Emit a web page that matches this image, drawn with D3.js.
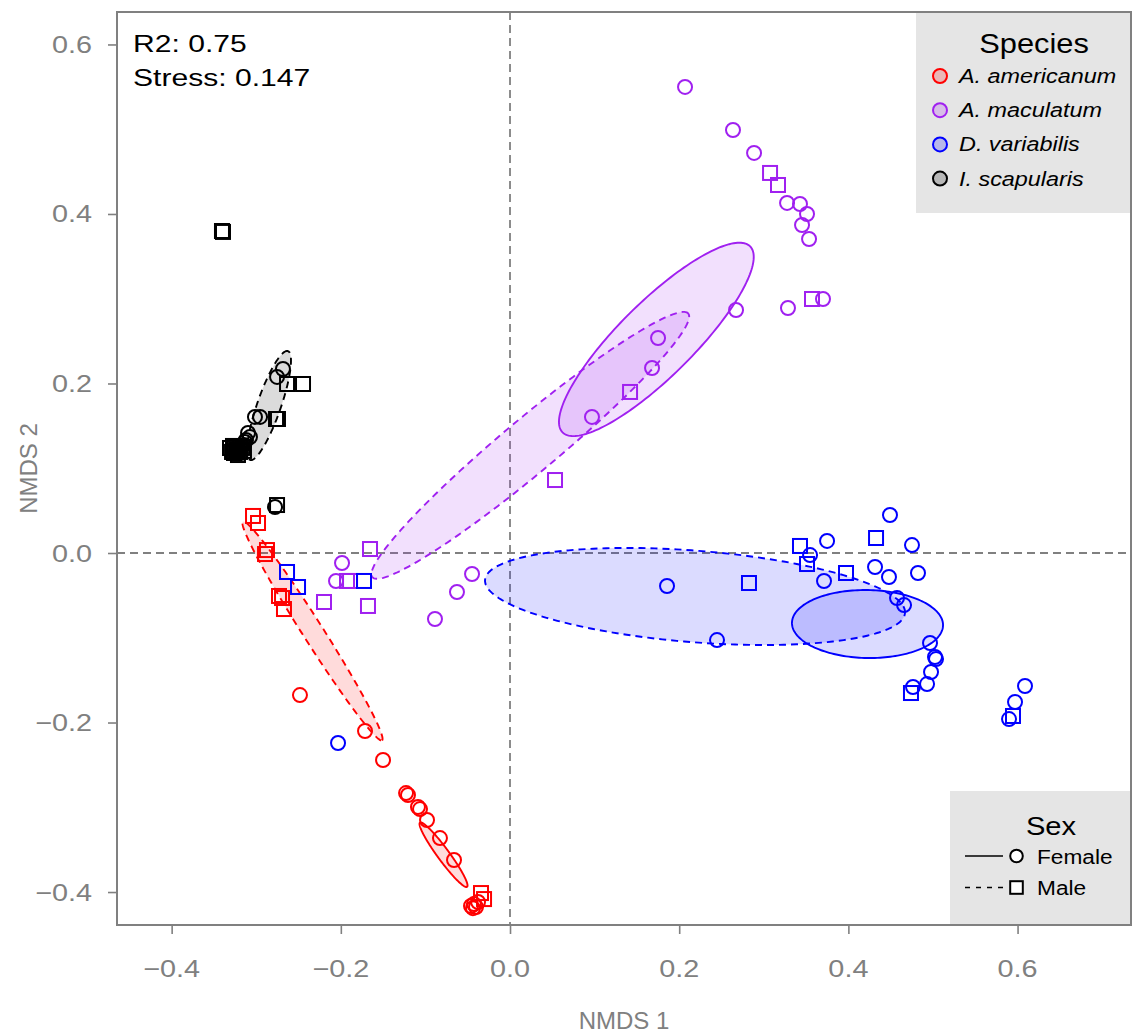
<!DOCTYPE html>
<html>
<head>
<meta charset="utf-8">
<script src="https://cdn.jsdelivr.net/npm/d3@7"></script>
<style>
  body { margin: 0; background: #fff; }
  text { font-family: "Liberation Sans", Arial, Helvetica, sans-serif; }
</style>
</head>
<body>
<svg id="chart" width="1133" height="1036"></svg>
<script>
// ---- data -------------------------------------------------------------
const speciesNames = ["A. americanum", "A. maculatum", "D. variabilis", "I. scapularis"];
const sexNames = ["Female", "Male"];
const xTickValues = [-0.4, -0.2, 0.0, 0.2, 0.4, 0.6];
const yTickValues = [-0.4, -0.2, 0.0, 0.2, 0.4, 0.6];
const fitStats = ["R2: 0.75", "Stress: 0.147"];

// NMDS site scores: [NMDS1, NMDS2, sex]
const amblyommaAmericanum = [
  [-0.2483, -0.1676, "F"], [-0.1714, -0.2100, "F"], [-0.1501, -0.2442, "F"],
  [-0.1229, -0.2832, "F"], [-0.1206, -0.2855, "F"], [-0.1088, -0.2997, "F"],
  [-0.1064, -0.3021, "F"], [-0.0981, -0.3150, "F"], [-0.0828, -0.3363, "F"],
  [-0.0662, -0.3622, "F"], [-0.0461, -0.4165, "F"], [-0.0426, -0.4142, "F"],
  [-0.0402, -0.4177, "F"], [-0.0378, -0.4118, "F"], [-0.0438, -0.4190, "F"],
  [-0.3038, 0.0437, "M"], [-0.2979, 0.0354, "M"], [-0.2873, 0.0035, "M"],
  [-0.2896, -0.0012, "M"], [-0.2731, -0.0507, "M"], [-0.2695, -0.0531, "M"],
  [-0.2672, -0.0661, "M"], [-0.0343, -0.4012, "M"], [-0.0307, -0.4083, "M"]
];
const amblyommaMaculatum = [
  [0.2069, 0.5499, "F"], [0.2636, 0.4991, "F"], [0.2885, 0.4720, "F"],
  [0.3275, 0.4130, "F"], [0.3428, 0.4118, "F"], [0.3511, 0.4000, "F"],
  [0.3452, 0.3870, "F"], [0.3535, 0.3705, "F"], [0.2672, 0.2867, "F"],
  [0.3286, 0.2891, "F"], [0.3700, 0.2997, "F"], [0.1750, 0.2537, "F"],
  [0.1679, 0.2183, "F"], [0.0969, 0.1605, "F"], [-0.0449, -0.0248, "F"],
  [-0.0627, -0.0460, "F"], [-0.0887, -0.0779, "F"], [-0.1986, -0.0118, "F"],
  [-0.2057, -0.0330, "F"],
  [0.3074, 0.4484, "M"], [0.3168, 0.4342, "M"], [0.3570, 0.2997, "M"],
  [0.1419, 0.1900, "M"], [0.0532, 0.0861, "M"], [-0.1655, 0.0047, "M"],
  [-0.1927, -0.0330, "M"], [-0.1891, -0.0330, "M"], [-0.2199, -0.0578, "M"],
  [-0.1679, -0.0625, "M"]
];
const dermacentorVariabilis = [
  [0.1856, -0.0389, "F"], [0.2447, -0.1027, "F"], [-0.2033, -0.2242, "F"],
  [0.4492, 0.0448, "F"], [0.3748, 0.0142, "F"], [0.3547, -0.0024, "F"],
  [0.4752, 0.0094, "F"], [0.4315, -0.0165, "F"], [0.4480, -0.0283, "F"],
  [0.4823, -0.0236, "F"], [0.3712, -0.0330, "F"], [0.4575, -0.0531, "F"],
  [0.4658, -0.0614, "F"], [0.4965, -0.1062, "F"], [0.5024, -0.1227, "F"],
  [0.5036, -0.1251, "F"], [0.4977, -0.1404, "F"], [0.4930, -0.1546, "F"],
  [0.4764, -0.1581, "F"], [0.6088, -0.1569, "F"], [0.5970, -0.1758, "F"],
  [0.5899, -0.1959, "F"],
  [0.3428, 0.0083, "M"], [0.3511, -0.0130, "M"], [0.3972, -0.0236, "M"],
  [0.4327, 0.0177, "M"], [0.2825, -0.0354, "M"], [0.4740, -0.1652, "M"],
  [0.5946, -0.1923, "M"], [-0.2636, -0.0224, "M"], [-0.2506, -0.0401, "M"],
  [-0.1726, -0.0330, "M"]
];
const ixodesScapularis = [
  [-0.2684, 0.2171, "F"], [-0.2754, 0.2077, "F"], [-0.3015, 0.1605, "F"],
  [-0.2955, 0.1605, "F"], [-0.3097, 0.1416, "F"], [-0.3074, 0.1369, "F"],
  [-0.3133, 0.1310, "F"], [-0.3168, 0.1263, "F"], [-0.3216, 0.1227, "F"],
  [-0.3192, 0.1239, "F"], [-0.3145, 0.1274, "F"], [-0.3239, 0.1192, "F"],
  [-0.3121, 0.1333, "F"], [-0.3180, 0.1180, "F"], [-0.2778, 0.0543, "F"],
  [-0.2636, 0.1994, "M"], [-0.2447, 0.1994, "M"], [-0.2766, 0.1581, "M"],
  [-0.2743, 0.1581, "M"], [-0.3263, 0.1251, "M"], [-0.3227, 0.1215, "M"],
  [-0.3192, 0.1192, "M"], [-0.3275, 0.1263, "M"], [-0.3239, 0.1215, "M"],
  [-0.3192, 0.1251, "M"], [-0.3145, 0.1204, "M"], [-0.3216, 0.1156, "M"],
  [-0.3286, 0.1192, "M"], [-0.3310, 0.1239, "M"], [-0.3263, 0.1180, "M"],
  [-0.3157, 0.1240, "M"], [-0.2754, 0.0566, "M"], [-0.3405, 0.3799, "M"],
  [-0.3393, 0.3788, "M"]
];
const pointsBySpecies = [amblyommaAmericanum, amblyommaMaculatum, dermacentorVariabilis, ixodesScapularis];

// 95% ellipses: species index, sex, centre, semi-axes, rotation (degrees)
const ellipseSpecies = [0, 0, 1, 1, 2, 2, 3];
const ellipseSex     = ["F", "M", "F", "M", "F", "M", "M"];
const ellipseCentre  = [[-0.0786, -0.3560], [-0.2335, -0.0920], [0.1730, 0.2520], [0.0240, 0.1270],
                        [0.4226, -0.0838], [0.2187, -0.0513], [-0.2849, 0.1740]];
const ellipseAxes    = [[0.047, 0.007], [0.153, 0.012], [0.156, 0.044], [0.243, 0.032],
                        [0.0893, 0.0401], [0.249, 0.054], [0.068, 0.014]];
const ellipseAngle   = [-53.7, -57.5, 44.7, 39.8, -1.0, -4.5, 70.8];

// ---- styles -----------------------------------------------------------
const speciesColor = ["#ff0000", "#a020f0", "#0000ff", "#000000"];
const axisGrey = "#808080";
const panel = { left: 117, right: 1131, top: 12, bottom: 925 };

const svg = d3.select("#chart");

const x = d3.scaleLinear().domain([-0.4646, 0.7341]).range([panel.left, panel.right]);
const y = d3.scaleLinear().domain([-0.4389, 0.6383]).range([panel.bottom, panel.top]);

// text with a slight horizontal stretch
function label(g, px, py, str, o) {
  const t = g.append("text")
    .attr("transform", `translate(${px},${py}) scale(${o.sx || 1},1)`)
    .attr("text-anchor", o.anchor || "start")
    .attr("font-size", o.size)
    .attr("fill", o.fill || "#000")
    .text(str);
  if (o.italic) t.attr("font-style", "italic");
  return t;
}

// symbol helper: circle for females, square for males
function drawSymbol(g, px, py, sex, stroke, fill, r) {
  if (sex === "F") {
    g.append("circle").attr("cx", px).attr("cy", py).attr("r", r)
      .attr("fill", fill).attr("stroke", stroke).attr("stroke-width", 2);
  } else {
    g.append("rect").attr("x", px - r).attr("y", py - r)
      .attr("width", 2 * r).attr("height", 2 * r)
      .attr("fill", fill).attr("stroke", stroke).attr("stroke-width", 2);
  }
}

// ---- reference lines ----------------------------------------------------
const ref = svg.append("g");
ref.append("line").attr("x1", x(0)).attr("x2", x(0)).attr("y1", panel.top).attr("y2", panel.bottom)
  .attr("stroke", axisGrey).attr("stroke-width", 1.8).attr("stroke-dasharray", "8,5");
ref.append("line").attr("x1", panel.left).attr("x2", panel.right).attr("y1", y(0)).attr("y2", y(0))
  .attr("stroke", axisGrey).attr("stroke-width", 1.8).attr("stroke-dasharray", "8,5");

// ---- ellipses -----------------------------------------------------------
const ellG = svg.append("g");
const ellLine = d3.line().x(d => x(d[0])).y(d => y(d[1])).curve(d3.curveLinearClosed);
ellipseSpecies.forEach((s, i) => {
  const [cx, cy] = ellipseCentre[i];
  const [a, b] = ellipseAxes[i];
  const th = ellipseAngle[i] * Math.PI / 180;
  const pts = d3.range(0, 2 * Math.PI, Math.PI / 90).map(t => [
    cx + a * Math.cos(t) * Math.cos(th) - b * Math.sin(t) * Math.sin(th),
    cy + a * Math.cos(t) * Math.sin(th) + b * Math.sin(t) * Math.cos(th)
  ]);
  ellG.append("path").attr("d", ellLine(pts))
    .attr("fill", speciesColor[s]).attr("fill-opacity", 0.14)
    .attr("stroke", speciesColor[s]).attr("stroke-width", 1.9)
    .attr("stroke-dasharray", ellipseSex[i] === "M" ? "7,5" : null);
});

// ---- points -------------------------------------------------------------
const ptG = svg.append("g");
pointsBySpecies.forEach((arr, s) => {
  arr.forEach(d => drawSymbol(ptG, x(d[0]), y(d[1]), d[2], speciesColor[s], "none", 7));
});

// ---- panel border & axes -----------------------------------------------
svg.append("rect").attr("x", panel.left).attr("y", panel.top)
  .attr("width", panel.right - panel.left).attr("height", panel.bottom - panel.top)
  .attr("fill", "none").attr("stroke", axisGrey).attr("stroke-width", 2);

const xAxisG = svg.append("g").attr("transform", `translate(0,${panel.bottom})`)
  .call(d3.axisBottom(x).tickValues(xTickValues).tickSize(9).tickFormat(""));
const yAxisG = svg.append("g").attr("transform", `translate(${panel.left},0)`)
  .call(d3.axisLeft(y).tickValues(yTickValues).tickSize(9).tickFormat(""));
[xAxisG, yAxisG].forEach(g => {
  g.select(".domain").remove();
  g.selectAll(".tick line").attr("stroke", axisGrey).attr("stroke-width", 1.6);
});

const fmt = v => (v < 0 ? "\u2212" : "") + Math.abs(v).toFixed(1);
xTickValues.forEach(v => label(svg, x(v), 977, fmt(v), { anchor: "middle", size: 24, sx: 1.2, fill: axisGrey }));
yTickValues.forEach(v => label(svg, 92, y(v) + 8.5, fmt(v), { anchor: "end", size: 24, sx: 1.2, fill: axisGrey }));

label(svg, (panel.left + panel.right) / 2, 1029, "NMDS 1", { anchor: "middle", size: 24, fill: axisGrey });
svg.append("text")
  .attr("transform", `translate(37,${(panel.top + panel.bottom) / 2}) rotate(-90)`)
  .attr("text-anchor", "middle").attr("font-size", 24).attr("fill", axisGrey)
  .text("NMDS 2");

// ---- fit statistics -----------------------------------------------------
fitStats.forEach((s, i) => label(svg, 133, 52 + i * 34, s, { size: 23.5, sx: 1.28 }));

// ---- species legend -----------------------------------------------------
const lg1 = svg.append("g");
lg1.append("rect").attr("x", 916).attr("y", panel.top + 1).attr("width", panel.right - 916 - 1)
  .attr("height", 200).attr("fill", "#e5e5e5");
label(lg1, 1034, 53, "Species", { anchor: "middle", size: 28, sx: 1.1 });
speciesNames.forEach((n, i) => {
  const cy = 76 + i * 34.2;
  lg1.append("circle").attr("cx", 940).attr("cy", cy).attr("r", 7)
    .attr("fill", speciesColor[i]).attr("fill-opacity", 0.2)
    .attr("stroke", speciesColor[i]).attr("stroke-width", 2);
  label(lg1, 959, cy + 7, n, { size: 19.5, sx: 1.2, italic: true });
});

// ---- sex legend ---------------------------------------------------------
const lg2 = svg.append("g");
lg2.append("rect").attr("x", 950).attr("y", 791).attr("width", panel.right - 950 - 1)
  .attr("height", panel.bottom - 791 - 1).attr("fill", "#e5e5e5");
label(lg2, 1051, 835, "Sex", { anchor: "middle", size: 26, sx: 1.12 });
sexNames.forEach((n, i) => {
  const cy = 856 + i * 31.5;
  lg2.append("line").attr("x1", 965).attr("x2", 1003).attr("y1", cy).attr("y2", cy)
    .attr("stroke", "#000").attr("stroke-width", 1.6)
    .attr("stroke-dasharray", i === 1 ? "5,6" : null);
  drawSymbol(lg2, 1016.5, cy, i === 0 ? "F" : "M", "#000", "#fff", 6.3);
  label(lg2, 1037, cy + 7.5, n, { size: 21, sx: 1.08 });
});
</script>
</body>
</html>
